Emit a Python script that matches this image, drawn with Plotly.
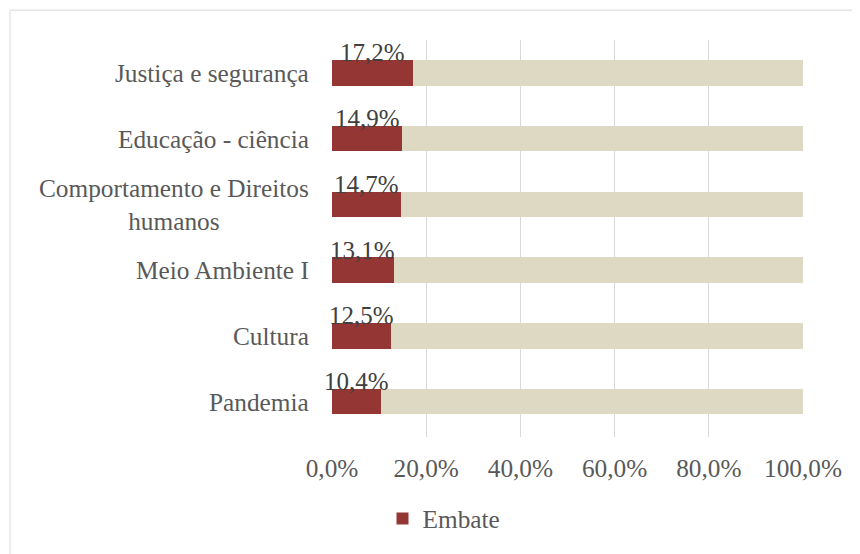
import plotly.graph_objects as go

categories = ["Justiça e segurança", "Educação - ciência", "Comportamento e Direitos<br>humanos",
              "Meio Ambiente I", "Cultura", "Pandemia"]
embate = [17.2, 14.9, 14.7, 13.1, 12.5, 10.4]
rest = [100 - v for v in embate]
x_ticks = [0, 20, 40, 60, 80, 100]
x_ticktext = ["0,0%", "20,0%", "40,0%", "60,0%", "80,0%", "100,0%"]

FONT = "Liberation Serif"
FS = 25.3
OFF = 8  # page body margin
W, H = 860 - OFF, 554 - OFF

fig = go.Figure()
fig.add_trace(go.Bar(y=categories, x=embate, orientation="h", name="Embate",
                     marker=dict(color="#943634", line=dict(width=0))))
fig.add_trace(go.Bar(y=categories, x=rest, orientation="h", name="Outros", showlegend=False,
                     marker=dict(color="#DDD9C3", line=dict(width=0))))

for c, v in zip(categories, embate):
    fig.add_annotation(x=v / 2, y=c, xref="x", yref="y", text=f"{v:.1f}".replace(".", ",") + "%",
                       showarrow=False, yshift=20, font=dict(family=FONT, size=25, color="#404040"))
    fig.add_annotation(x=0, y=c, xref="paper", yref="y", text=c, showarrow=False,
                       xanchor="right", align="center", xshift=-21,
                       font=dict(family=FONT, size=FS, color="#595959"))

L, T = 332 - OFF, 40 - OFF
R = W - (803 - OFF)
B = H - (439 - OFF)
pw, ph = W - L - R, H - T - B


def px_x(page_x):
    return (page_x - OFF - L) / pw


def px_y(page_y):
    return 1 - (page_y - OFF - T) / ph


fig.add_shape(type="rect", xref="paper", yref="paper",
              x0=px_x(10), x1=px_x(855), y0=px_y(570), y1=px_y(10),
              line=dict(color="#D9D9D9", width=1), fillcolor="rgba(0,0,0,0)", layer="below")

fig.update_layout(
    width=W, height=H, barmode="stack", bargap=0.61,
    margin=dict(l=L, r=R, t=T, b=B),
    plot_bgcolor="white", paper_bgcolor="white",
    font=dict(family=FONT, size=FS, color="#595959"),
    xaxis=dict(range=[0, 100], tickvals=x_ticks, ticktext=x_ticktext, showgrid=True,
               gridcolor="#D9D9D9", gridwidth=1, zeroline=False, showline=False,
               ticks="", ticklabelstandoff=14, tickfont=dict(family=FONT, size=FS, color="#595959")),
    yaxis=dict(autorange="reversed", showticklabels=False, showgrid=False, zeroline=False,
               showline=False, ticks=""),
    legend=dict(orientation="h", x=px_x(444), xanchor="center", y=px_y(521),
                yanchor="middle", font=dict(family=FONT, size=FS, color="#595959"),
                bgcolor="rgba(0,0,0,0)"),
    showlegend=True,
)
fig.write_html("out.html")
